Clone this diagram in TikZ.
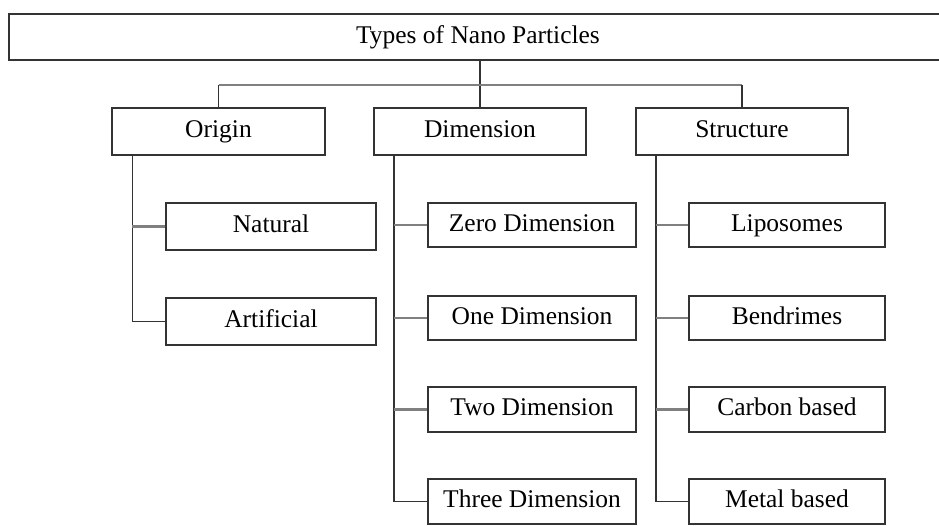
\documentclass[tikz,border=0pt]{standalone}
\usepackage{fontspec}
\setmainfont{Liberation Serif}
\usetikzlibrary{positioning}

\begin{document}
\begin{tikzpicture}[x=0.02cm,y=-0.02cm,
        box/.style={draw=black!80,line width=1pt,fill=white,inner sep=0pt,text height=10pt,text depth=3pt,font=\fontsize{14.5}{17}\selectfont},
        topbox/.style={box,minimum width=18.76cm,minimum height=0.92cm},
        groupbox/.style={box,minimum width=4.25cm,minimum height=0.94cm},
        originbox/.style={box,minimum width=4.2cm,minimum height=0.94cm},
        dimbox/.style={box,minimum width=4.16cm,minimum height=0.89cm},
        structbox/.style={box,minimum width=3.92cm,minimum height=0.89cm},
        link/.style={draw=black!80,line width=1pt},
        stub/.style={draw=black!50,line width=1.4pt}]
    \useasboundingbox (0,0) rectangle (939,525);

    % top and groups
    \node[topbox] (types) at (478,37) {Types of Nano Particles};
    \node[groupbox] (origin) at (218.5,131.5) {Origin};
    \node[groupbox] (dim) at (480,131.5) {Dimension};
    \node[groupbox] (struct) at (742,131.5) {Structure};

    % children
    \node[originbox] (natural) at (271,226.5) {Natural};
    \node[originbox] (artificial) at (271,321.5) {Artificial};

    \node[dimbox] (zero) at (532,225) {Zero Dimension};
    \node[dimbox] (one) at (532,318) {One Dimension};
    \node[dimbox] (two) at (532,409.5) {Two Dimension};
    \node[dimbox] (three) at (532,501.5) {Three Dimension};

    \node[structbox] (lipo) at (787,225) {Liposomes};
    \node[structbox] (bend) at (787,318) {Bendrimes};
    \node[structbox] (carbon) at (787,409.5) {Carbon based};
    \node[structbox] (metal) at (787,501.5) {Metal based};

    % connectors from the top
    \coordinate (bar) at (480,85);
    \draw[link] (types.south -| dim.north) -- (dim.north);
    \draw[stub] (origin.north |- bar) -- (struct.north |- bar);
    \draw[link] (origin.north |- bar) -- (origin.north);
    \draw[link] (struct.north |- bar) -- (struct.north);

    % spines
    \coordinate (ospine) at ([xshift=0.42cm]origin.south west);
    \coordinate (dspine) at ([xshift=0.42cm]dim.south west);
    \coordinate (sspine) at ([xshift=0.42cm]struct.south west);
    \draw[link] (ospine) |- (artificial.west);
    \draw[link] (dspine) |- (three.west);
    \draw[link] (sspine) |- (metal.west);

    \draw[stub] (natural.west) -- (natural.west -| ospine);
    \foreach \n in {zero,one,two}
        \draw[stub] (\n.west) -- (\n.west -| dspine);
    \foreach \n in {lipo,bend,carbon}
        \draw[stub] (\n.west) -- (\n.west -| sspine);
\end{tikzpicture}
\end{document}
